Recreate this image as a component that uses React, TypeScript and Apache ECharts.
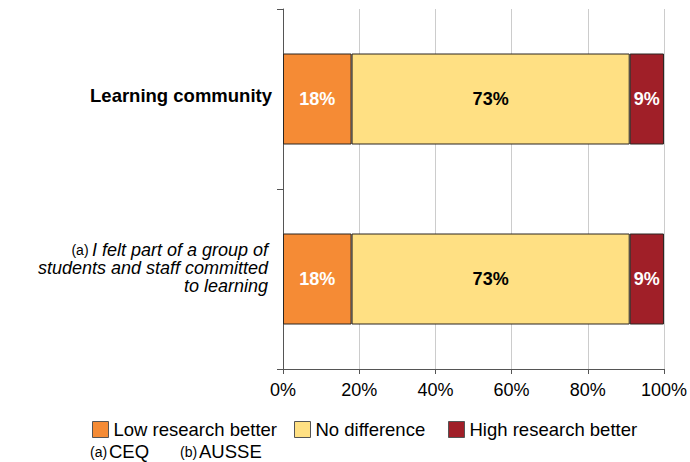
import React, { useEffect, useRef } from "react";
import * as echarts from "echarts";

// Categories, top to bottom
const categories = [
  "Learning community",
  "(a) I felt part of a group of students and staff committed to learning",
];

// Share of responses (%) per category
const lowResearchBetter = [18, 18];
const noDifference = [73, 73];
const highResearchBetter = [9, 9];

const seriesNames = ["Low research better", "No difference", "High research better"];
const xTicks = [0, 20, 40, 60, 80, 100];
const footnotes = [
  { mark: "(a)", text: "CEQ" },
  { mark: "(b)", text: "AUSSE" },
];

const FONT = "'Liberation Sans', Arial, Helvetica, sans-serif";
const COLORS = ["#F58B35", "#FFE083", "#A01F28"];
const LABEL_COLORS = ["#ffffff", "#000000", "#ffffff"];
const BORDER = "#2a2520";

export default function App() {
  const ref = useRef<HTMLDivElement>(null);

  useEffect(() => {
    if (!ref.current) return;
    const chart = echarts.init(ref.current, null, { renderer: "svg" });

    const values = [lowResearchBetter, noDifference, highResearchBetter];

    const formatCategory = (value: string) => {
      if (value === categories[0]) {
        return `{head|${value}}\n{gap1| }`;
      }
      // second category: small note mark followed by italic statement over three lines
      return [
        "{mark|(a)} {it|I felt part of a group of}",
        "{it|students and staff committed}",
        "{it|to learning}",
        "{gap2| }",
      ].join("\n");
    };

    const legendLeft = [92, 294, 448];

    chart.setOption({
      animation: false,
      textStyle: { fontFamily: FONT },
      grid: { left: 283, right: 26, top: 9, bottom: 93, containLabel: false },
      xAxis: {
        type: "value",
        min: xTicks[0],
        max: xTicks[xTicks.length - 1],
        interval: xTicks[1] - xTicks[0],
        axisLine: { show: true, lineStyle: { color: "#555", width: 1 } },
        axisTick: { show: true, length: 5, lineStyle: { color: "#555" } },
        axisLabel: {
          formatter: "{value}%",
          fontSize: 18,
          color: "#000",
          fontFamily: FONT,
          margin: 12,
        },
        splitLine: { show: true, lineStyle: { color: "#cccccc", width: 1 } },
      },
      yAxis: {
        type: "category",
        inverse: true,
        data: categories,
        axisLine: { show: true, lineStyle: { color: "#555", width: 1 } },
        axisTick: { show: true, length: 6, lineStyle: { color: "#555" } },
        axisLabel: {
          margin: 11,
          align: "right",
          color: "#000",
          fontFamily: FONT,
          formatter: formatCategory,
          rich: {
            head: { fontSize: 18.5, fontWeight: "bold", color: "#000", fontFamily: FONT, align: "right" },
            gap1: { fontSize: 1, lineHeight: 8 },
            mark: { fontSize: 14, color: "#000", fontFamily: FONT, lineHeight: 18 },
            it: {
              fontSize: 18,
              fontStyle: "italic",
              color: "#000",
              fontFamily: FONT,
              lineHeight: 18,
              align: "right",
              padding: [0, 4, 0, 0],
            },
            gap2: { fontSize: 1, lineHeight: 22 },
          },
        },
        splitLine: { show: false },
      },
      legend: seriesNames.map((name, i) => ({
        data: [name],
        left: legendLeft[i],
        top: 420,
        padding: 0,
        itemWidth: 16,
        itemHeight: 16,
        icon: "rect",
        selectedMode: false,
        itemStyle: { borderColor: "#555", borderWidth: 1 },
        textStyle: { fontSize: 18.5, color: "#000", fontFamily: FONT },
      })),
      graphic: footnotes.flatMap((f, i) => {
        const x = [90, 180][i];
        return [
          {
            type: "text",
            x,
            y: 452,
            style: { text: f.mark, fontSize: 14, fill: "#000", fontFamily: FONT, verticalAlign: "middle" },
          },
          {
            type: "text",
            x: x + 19,
            y: 451,
            style: { text: f.text, fontSize: 18.5, fill: "#000", fontFamily: FONT, verticalAlign: "middle" },
          },
        ];
      }),
      series: seriesNames.map((name, i) => ({
        name,
        type: "bar",
        stack: "total",
        barWidth: 91,
        data: values[i],
        itemStyle: { color: COLORS[i], borderColor: BORDER, borderWidth: 1 },
        label: {
          show: true,
          position: "inside",
          formatter: (p: any) => `${p.value}%`,
          fontSize: 18,
          fontWeight: "bold",
          color: LABEL_COLORS[i],
          fontFamily: FONT,
        },
      })),
    });

    return () => chart.dispose();
  }, []);

  return (
    <div
      ref={ref}
      style={{ position: "absolute", left: 0, top: 0, width: 690, height: 462, background: "#fff" }}
    />
  );
}
